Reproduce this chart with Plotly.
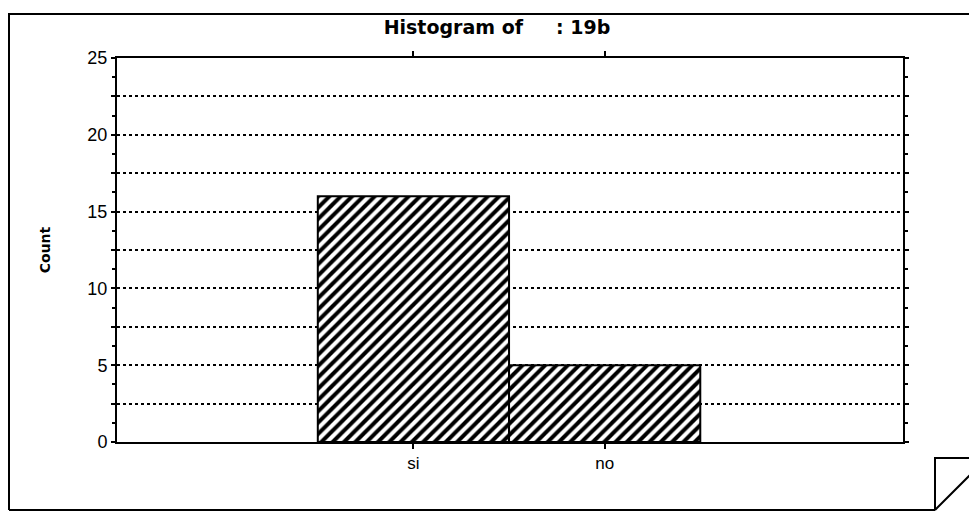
import plotly.graph_objects as go

categories = ["si", "no"]
counts = [16, 5]
y_tick_values = [0, 2.5, 5, 7.5, 10, 12.5, 15, 17.5, 20, 22.5, 25]
y_tick_labels = ["0", "", "5", "", "10", "", "15", "", "20", "", "25"]

OFF = 8  # page body margin
W, H = 977 - OFF, 513 - OFF
L, R, T, B = 117 - OFF, 903 - OFF, 58 - OFF, 442 - OFF

def px(x):
    return (x - OFF - L) / (R - L)

def py(y):
    return (B - (y - OFF)) / (B - T)

fig = go.Figure(go.Bar(
    x=categories, y=counts, width=1,
    marker=dict(color="white", line=dict(color="black", width=2),
                pattern=dict(shape="/", size=8, solidity=0.5, fgopacity=1,
                             fgcolor="black", bgcolor="white")),
))

font_main = "Liberation Sans, Arial, sans-serif"

fig.update_layout(
    width=W, height=H,
    margin=dict(l=L, r=W - R, t=T, b=H - B, pad=0),
    paper_bgcolor="white", plot_bgcolor="white",
    showlegend=False,
    title=dict(text="<b>Histogram of     : 19b</b>", x=(497 - OFF) / W, xanchor="center",
               y=1 - (27 - OFF) / H, yanchor="middle",
               font=dict(family="DejaVu Sans", size=19, color="black")),
    xaxis=dict(range=[-1.55, 2.56], showgrid=False, showline=True, linecolor="black",
               linewidth=2, mirror="ticks", ticks="outside", ticklen=5, tickwidth=1.5,
               tickcolor="black", zeroline=False,
               tickfont=dict(family=font_main, size=17, color="black")),
    yaxis=dict(range=[0, 25], tickvals=y_tick_values, ticktext=y_tick_labels,
               showgrid=True, gridcolor="black", griddash="dot", gridwidth=1.5,
               showline=True, linecolor="black", linewidth=2, mirror="ticks",
               ticks="outside", ticklen=4, tickwidth=1.5, tickcolor="black",
               zeroline=False,
               minor=dict(dtick=1.25, ticks="outside", ticklen=3, tickcolor="black",
                          showgrid=False),
               tickfont=dict(family=font_main, size=18, color="black"),
               title=dict(text="<b>Count</b>", standoff=33,
                          font=dict(family="DejaVu Sans", size=14, color="black"))),
)

# outer frame with page curl
frame_path = (f"M {px(9)},{py(510)} L {px(9)},{py(14)} L {px(980)},{py(14)} "
              f"M {px(9)},{py(510)} L {px(935)},{py(510)} "
              f"M {px(935)},{py(510)} L {px(935)},{py(458)} L {px(980)},{py(458)} "
              f"M {px(935)},{py(510)} L {px(980)},{py(465)}")
fig.add_shape(type="path", path=frame_path, xref="paper", yref="paper",
              line=dict(color="black", width=2))

fig.write_html("out.html")
